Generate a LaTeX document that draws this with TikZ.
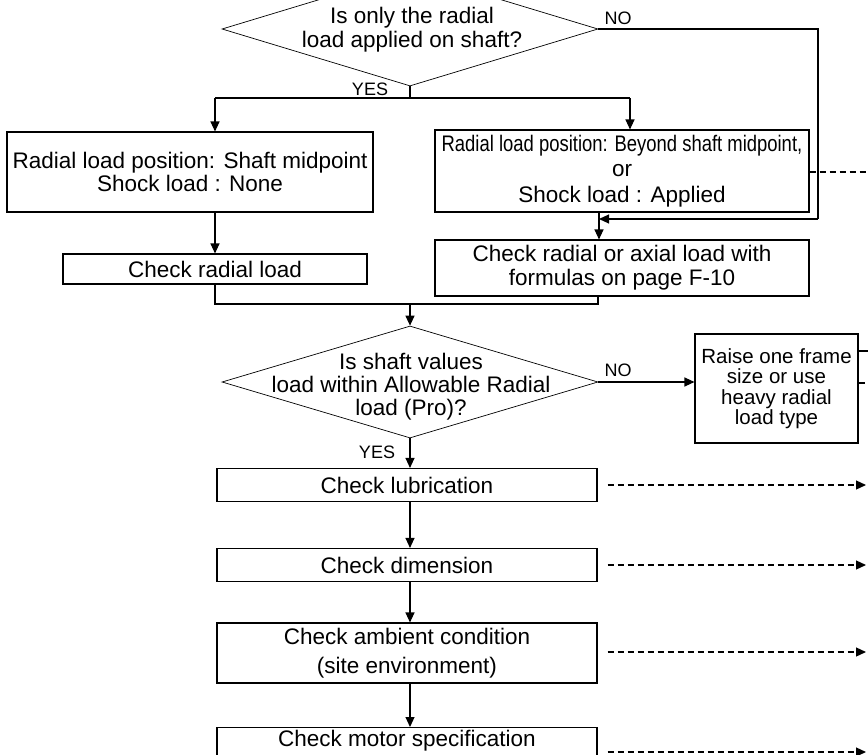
\documentclass[tikz,border=0pt]{standalone}
\usepackage{fontspec}
\setmainfont{Liberation Sans}
\usepackage{graphicx}
\usetikzlibrary{shapes.geometric,arrows.meta}
\begin{document}
\begin{tikzpicture}[x=1pt,y=-1pt,
  box/.style={draw, line width=1.1pt, inner sep=0pt, align=center, font=\fontsize{22.5}{24}\selectfont},
  dia/.style={draw, diamond, line width=0.7pt, inner sep=0pt, minimum width=376pt, minimum height=114pt},
  dtext/.style={inner sep=0pt, align=center, font=\fontsize{22.5}{24}\selectfont},
  lbl/.style={font=\fontsize{18}{20}\selectfont, inner sep=0pt},
  ln/.style={line width=1.1pt},
  arr/.style={line width=1.1pt, -{Triangle[length=10pt,width=9pt]}},
  dsh/.style={line width=1.2pt, dash pattern=on 6pt off 4pt},
  darr/.style={line width=1.2pt, dash pattern=on 6pt off 4pt, -{Triangle[length=10pt,width=9pt]}}]
\useasboundingbox (0,0) rectangle (868,755);
\clip (0,0) rectangle (868,755);

% decision 1
\node[dia] (d1) at (410,29) {};
\node[dtext] (d1t) at (412,30) {Is only the radial\\load applied on shaft?};
\node[lbl] (yes1) at (370,89) {YES};
\node[lbl] (no1) at (618,18) {NO};

% boxes row 1
\node[box, minimum width=366pt, minimum height=80pt, font=\fontsize{22.5}{23}\selectfont] (b1) at (190,172)
  {Radial load position: Shaft midpoint\\Shock load : None};
\node[box, minimum width=374pt, minimum height=82pt, font=\fontsize{22.5}{25.5}\selectfont] (b2) at (622,171)
  {\scalebox{0.82}[1]{Radial load position: Beyond shaft midpoint,}\\or\\Shock load : Applied};

% boxes row 2
\node[box, minimum width=304pt, minimum height=30pt] (b3) at (215,269) {Check radial load};
\node[box, minimum width=374pt, minimum height=56pt] (b4) at (622,268)
  {Check radial or axial load with\\formulas on page F-10};

% decision 2
\node[dia, minimum height=112pt] (d2) at (410,382) {};
\node[dtext, font=\fontsize{22.5}{23}\selectfont] (d2t) at (411,387) {Is shaft values\\load within Allowable Radial\\load (Pro)?};
\node[lbl] (no2) at (618,370) {NO};
\node[lbl] (yes2) at (377,452) {YES};

\node[box, minimum width=163pt, minimum height=109pt, font=\fontsize{20.5}{20.5}\selectfont] (r) at (776.5,388.5)
  {Raise one frame\\size or use\\heavy radial\\load type};

% lower column
\node[box, minimum width=380pt, minimum height=33pt] (lub) at (407,485) {Check lubrication};
\node[box, minimum width=380pt, minimum height=33pt] (dim) at (407,565) {Check dimension};
\node[box, minimum width=380pt, minimum height=60pt, font=\fontsize{22.5}{29}\selectfont] (amb) at (407,653)
  {Check ambient condition\\(site environment)};
\node[box, minimum width=380pt, minimum height=60pt, anchor=north, font=\fontsize{22.5}{29}\selectfont] (mot) at (407,727)
  {Check motor specification\\\strut};

% coordinates
\coordinate (j1) at (410,98);
\coordinate (ja) at (215,98);
\coordinate (jb) at (630,98);
\coordinate (c1) at (818,29);
\coordinate (c2) at (818,219);
\coordinate (c3) at (599,219);
\coordinate (m1) at (215,304);
\coordinate (m2) at (598,304);
\coordinate (mc) at (410,304);
\coordinate (e1) at (868,172);
\coordinate (e2) at (868,351);
\coordinate (e3) at (868,383);
\coordinate (e4) at (866,485);
\coordinate (e5) at (866,565);
\coordinate (e6) at (866,652);
\coordinate (e7) at (866,752);

% connectors
\draw[ln] (d1.south) -- (j1);
\draw[ln] (ja) -- (jb);
\draw[arr] (ja) -- (ja |- b1.north);
\draw[arr] (jb) -- (jb |- b2.north);
\draw[ln] (d1.east) -- (c1) -- (c2);
\draw[arr] (c2) -- (c3);
\draw[arr] (c3 |- b2.south) -- (c3 |- b4.north);
\draw[dsh] (b2.east |- e1) -- (e1);
\draw[arr] (b1.south -| b3.north) -- (b3.north);
\draw[ln] (b3.south) -- (m1) -- (m2) -- (m2 |- b4.south);
\draw[arr] (mc) -- (d2.north);
\draw[arr] (d2.east) -- (d2.east -| r.west);
\draw[ln] (r.east |- e2) -- (e2);
\draw[dsh] (r.east |- e3) -- (e3);
\draw[arr] (d2.south) -- (lub.north -| d2.south);
\draw[arr] (lub.south -| d2.south) -- (dim.north -| d2.south);
\draw[arr] (dim.south -| d2.south) -- (amb.north -| d2.south);
\draw[arr] (amb.south -| d2.south) -- (mot.north -| d2.south);
\draw[darr] ([xshift=10pt]lub.east |- e4) -- (e4);
\draw[darr] ([xshift=10pt]dim.east |- e5) -- (e5);
\draw[darr] ([xshift=10pt]amb.east |- e6) -- (e6);
\draw[darr] ([xshift=10pt]mot.east |- e7) -- (e7);
\end{tikzpicture}
\end{document}
